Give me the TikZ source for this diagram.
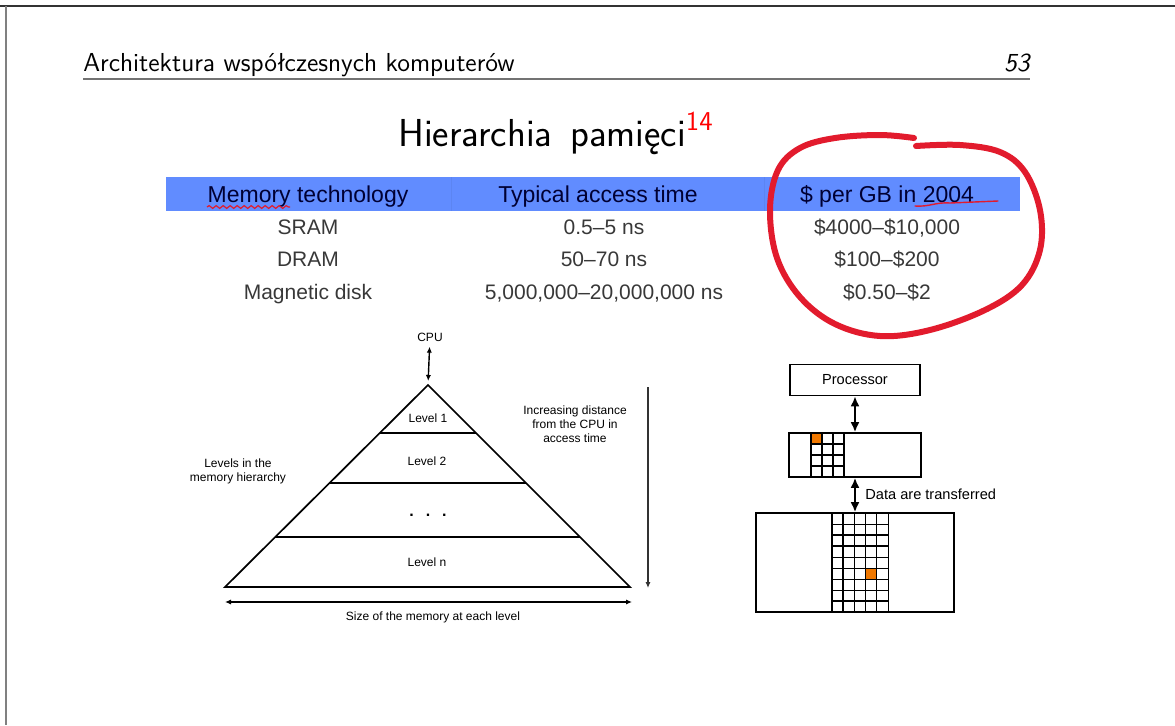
\documentclass[tikz,border=0pt]{standalone}
\usepackage{fontspec}
\newfontfamily\tabfont[Ligatures=TeX]{Liberation Sans}
\usepackage{xcolor}
\usetikzlibrary{arrows.meta,positioning,decorations.pathmorphing}
\definecolor{hdrblue}{RGB}{97,140,255}
\definecolor{inkred}{RGB}{226,27,45}
\definecolor{cellorange}{RGB}{240,120,0}

\begin{document}
\begin{tikzpicture}[x=0.5pt, y=-0.5pt,
  tab/.style={font=\tabfont\fontsize{10.5}{12}\selectfont, text=black!78, anchor=base, inner sep=0},
  hd/.style={tab, font=\tabfont\fontsize{11.5}{13}\selectfont, text=black!80!blue},
  lbl/.style={font=\tabfont\fontsize{6}{7}\selectfont, align=center, inner sep=0},
  lbl2/.style={font=\tabfont\fontsize{7.3}{8.5}\selectfont, inner sep=0},
  blk/.style={draw, line width=0.8pt, inner sep=0},
  pyr/.style={line width=0.85pt, line join=miter},
  a/.style={{Latex[length=3pt,width=2.6pt]}-{Latex[length=3pt,width=2.6pt]}, line width=0.7pt},
  a2/.style={{Latex[length=5pt,width=4.5pt]}-{Latex[length=5pt,width=4.5pt]}, line width=1.2pt}]
\useasboundingbox (0,0) rectangle (1175,725);
% page frame and running head
\draw[black!80, line width=1pt] (0,6) -- (1175,6);
\draw[black!50, line width=1pt] (6,6) -- (6,725);
\node[anchor=base west, inner sep=0, font=\sffamily\fontsize{13}{15}\selectfont] (head) at (83,71) {Architektura współczesnych komputerów};
\node[anchor=base east, inner sep=0, font=\sffamily\itshape\fontsize{13}{15}\selectfont] (page) at (1030,71) {53};
\draw[black!55, line width=1pt] (83,79) -- (1030,79);
\node[anchor=base west, inner sep=0, font=\sffamily\fontsize{19.5}{22}\selectfont] (title) at (398,146) {Hierarchia\hspace{3pt} pamięci\textsuperscript{\color{red}14}};

% table
\fill[hdrblue] (166,177) rectangle (1020,211);
\draw[hdrblue!95!black, line width=0.3pt] (451,177) -- (451,211) (764,177) -- (764,211);
\node[hd] (h1) at (308,202) {Memory technology};
\node[hd] (h2) at (598,202) {Typical access time};
\node[hd] (h3) at (887,202) {\$ per GB in 2004};
\node[tab] (r1a) at (308,234) {SRAM};
\node[tab] (r1b) at (604,234) {0.5--5 ns};
\node[tab] (r1c) at (887,234) {\$4000--\$10,000};
\node[tab] (r2a) at (308,266) {DRAM};
\node[tab] (r2b) at (604,266) {50--70 ns};
\node[tab] (r2c) at (887,266) {\$100--\$200};
\node[tab] (r3a) at (308,299) {Magnetic disk};
\node[tab] (r3b) at (604,299) {5,000,000--20,000,000 ns};
\node[tab] (r3c) at (887,299) {\$0.50--\$2};

% red marks
\draw[inkred, line width=0.6pt, decorate, decoration={snake, amplitude=0.7pt, segment length=3.5pt}] (207,207) -- (290,207);
\draw[inkred, line width=0.7pt, line cap=round] (915,206) .. controls (930,207) and (935,202) .. (950,203) -- (998,201);
\draw[inkred, line width=3pt, line cap=round, line join=round] plot[smooth, tension=0.6] coordinates {(916,146) (960,145) (1000,152) (1025,172) (1040,210) (1040,250) (1022,285) (985,310) (930,330) (880,336) (835,324) (800,297) (777,258) (770,210) (778,170) (800,148) (835,138) (880,135) (914,138)};

% pyramid
\coordinate (apex) at (428,385);
\coordinate (bl) at (225,587);
\coordinate (br) at (630,587);
\draw[pyr] (apex) -- (bl) -- (br) -- cycle;
\draw[pyr] (379.8,433) -- (476,433);
\draw[pyr, line width=1.3pt] (329.5,483) -- (526,483);
\draw[pyr] (275.2,537) -- (580,537);
\node[lbl] (lv1) at (428,418) {Level 1};
\node[lbl] (lv2) at (427,461) {Level 2};
\node[lbl, anchor=base, font=\tabfont\bfseries\fontsize{8}{9}\selectfont] (dots) at (428,516) {.\hspace{6pt}.\hspace{6pt}.};
\node[lbl] (lvn) at (427,562) {Level n};
\node[lbl] (cpu) at (430,337) {CPU};
\node[lbl] (levels) at (238,471) {Levels in the\\memory hierarchy};
\node[lbl] (dist) at (575,424) {Increasing distance\\from the CPU in\\access time};
\node[lbl] (size) at (433,617) {Size of the memory at each level};
\draw[a, shorten <=2.5pt, shorten >=2pt] (cpu) -- (apex);
\coordinate (dtop) at (648,387);
\coordinate (dbot) at (648,588);
\draw[black!80, line width=0.6pt, -{Latex[length=3pt,width=2.6pt]}] (dtop) -- (dbot);
\coordinate (sl) at (225,602);
\coordinate (sr) at (632,602);
\draw[a] (sl) -- (sr);

% processor, cache, memory
\fill[cellorange] (811,433) rectangle (822,444);
\foreach \c in {811,822,833,844} \draw[line width=0.6pt] (\c,433) -- (\c,477);
\foreach \r in {444,455,466} \draw[line width=0.6pt] (811,\r) -- (844,\r);
\fill[cellorange] (865.6,568) rectangle (876.8,579);
\foreach \i in {0,...,5} \draw[line width=0.5pt] (832+11.2*\i,513) -- (832+11.2*\i,612);
\foreach \j in {1,...,8} \draw[line width=0.5pt] (832,513+11*\j) -- (888,513+11*\j);
\foreach \c in {832,843.2,854.4} \draw[line width=0.9pt] (\c,513) -- (\c,612);
\foreach \r in {535,546,601} \draw[line width=0.9pt] (832,\r) -- (888,\r);
\node[blk, minimum width=65pt, minimum height=15.5pt, font=\tabfont\fontsize{7.3}{8.5}\selectfont] (proc) at (855,380) {Processor};
\node[blk, minimum width=66pt, minimum height=22pt] (cache) at (855,455) {};
\node[blk, minimum width=99pt, minimum height=49.5pt] (mem) at (855,562.5) {};
\draw[a2] (proc) -- (cache);
\draw[a2] (cache) -- (mem);
\node[lbl2, anchor=west] (xfer) at (865,494) {Data are transferred};
\end{tikzpicture}
\end{document}
